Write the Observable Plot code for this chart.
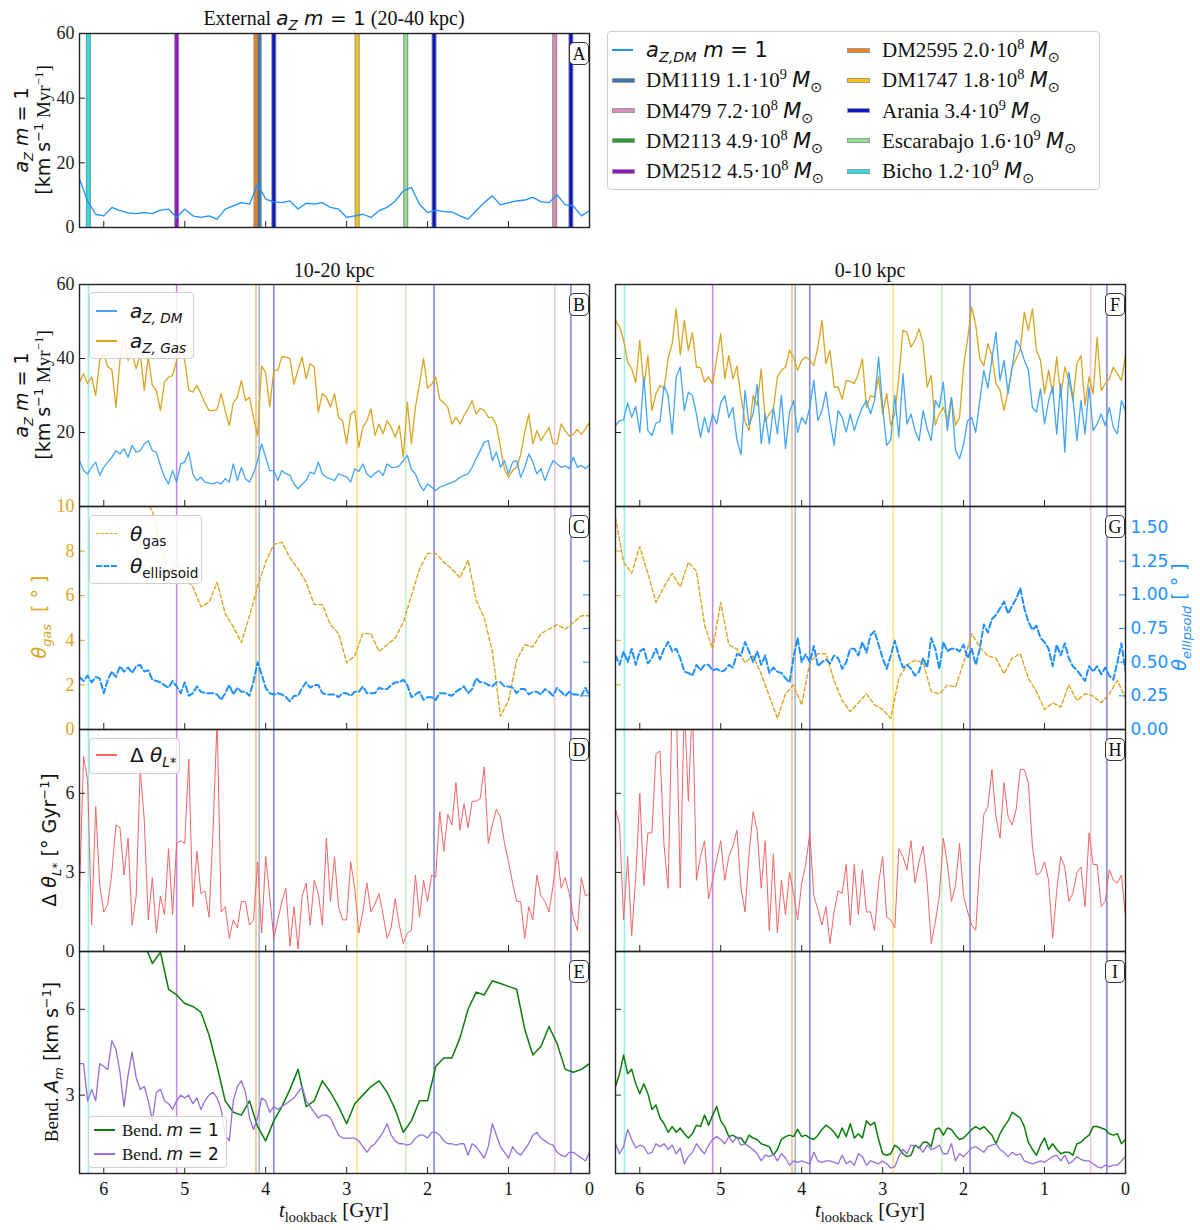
<!DOCTYPE html>
<html><head><meta charset="utf-8">
<script src="https://cdn.jsdelivr.net/npm/d3@7"></script>
<script src="https://cdn.jsdelivr.net/npm/@observablehq/plot@0.6"></script>
<style>
body{margin:0;background:#fff;}
#fig{position:relative;width:1200px;height:1230px;overflow:hidden;font-family:"Liberation Serif",serif;color:#111;}
.lab{position:absolute;white-space:nowrap;transform:translate(-50%,-50%);}
.rot{transform:translate(-50%,-50%) rotate(-90deg);text-align:center;line-height:1.15;}
.m{font-family:"DejaVu Sans",sans-serif;}
sub,sup{font-size:68%;line-height:0;}
.box{position:absolute;border:1px solid #cfcfcf;border-radius:4px;background:rgba(255,255,255,0.85);}
.tag{position:absolute;width:20px;height:23px;border:1.3px solid #333;border-radius:5px;background:#fff;font-size:18px;line-height:22px;text-align:center;box-sizing:border-box;}
.sw{position:absolute;}
.lt{position:absolute;white-space:nowrap;transform:translateY(-50%);}
</style></head>
<body><div id="fig"></div>
<script>
// time grids (Gyr lookback)
const tGyr05 = d3.range(127).map(i => +(6.3 - 0.05 * i).toFixed(2));
const tGyr10 = d3.range(64).map(i => +(6.3 - 0.1 * i).toFixed(1));
const xTickVals = [6, 5, 4, 3, 2, 1, 0];

// satellite pericentre passages
const eventNames = ["Bicho", "DM2512", "DM2595", "DM1119", "Arania", "DM1747", "Escarabajo", "Arania", "DM479", "Arania"];
const eventTimes = [6.19, 5.10, 4.12, 4.08, 3.90, 2.87, 2.27, 1.92, 0.43, 0.23];
const satColors = {DM1119: "#3b76ad", DM479: "#d98cb8", DM2113: "#2ca02c", DM2512: "#9516c9", DM2595: "#f57f17",
  DM1747: "#ffc400", Arania: "#0a14c8", Escarabajo: "#8ee08e", Bicho: "#22e3e3"};

// legend
const legendSats = ["DM1119", "DM479", "DM2113", "DM2512", "DM2595", "DM1747", "Arania", "Escarabajo", "Bicho"];
const legendMant = ["1.1", "7.2", "4.9", "4.5", "2.0", "1.8", "3.4", "1.6", "1.2"];
const legendExp = [9, 8, 8, 8, 8, 8, 9, 9, 9];

// A: external a_Z (20-40 kpc), 0.1 Gyr grid
const azExt = [15,8.2,4.1,3.6,6.2,5.2,4.5,4.3,4.6,4.3,5.4,5.7,3.1,5.7,3.6,3.1,3.6,2.6,5.7,6.7,7.7,7.2,13.4,8.8,7.9,7.7,8.2,5.7,7.5,7.2,7.7,6.2,5.7,3.1,3.6,4.1,3.1,5.2,6.2,8.2,11.3,12.4,7.2,4.6,5.4,4.9,4.8,3.6,2.6,5.2,7.7,9.8,7.0,7.7,8.2,8.5,9.3,8.0,7.7,10.1,7.0,6.7,3.6,5.2];

// B: 10-20 kpc a_Z (0.05 Gyr grid)
const azGasB = [33.6,35.9,33.2,35.0,30.0,39.5,41.3,37.7,37.0,26.8,39.5,45.8,39.5,41.3,37.2,41.3,31.4,40.4,32.7,31.4,25.9,33.6,35.0,35.4,39.5,43.5,39.5,31.4,30.9,32.7,30.5,28.0,25.9,25.9,26.2,30.5,25.9,21.9,28.0,29.5,34.0,28.6,29.5,24.0,19.0,38.0,36.0,27.0,36.8,36.8,40.5,40.4,39.9,33.0,37.0,40.4,34.5,38.6,37.7,25.5,30.5,29.5,26.8,30.5,24.1,23.2,17.0,25.0,25.9,16.0,21.4,23.2,26.4,19.2,22.3,19.6,23.2,21.4,18.7,21.9,13.3,28.2,16.9,27.0,33.0,40.0,32.0,33.0,35.0,29.0,28.0,26.8,22.3,24.1,22.3,24.6,26.4,28.6,25.0,26.5,26.0,24.1,24.1,22.0,16.0,10.0,7.9,9.7,10.6,14.0,20.0,25.0,16.9,20.5,17.8,19.6,21.4,17.0,16.9,22.3,20.5,19.0,19.5,20.8,19.5,21.0,22.8];
const azDmB = [12.4,9.7,8.8,10.6,12.0,8.4,10.6,12.0,13.3,15.1,14.2,15.6,13.3,16.5,14.7,15.1,16.9,17.8,15.1,14.7,11.0,8.0,6.1,9.7,6.6,11.5,12.0,14.7,8.8,7.0,7.9,6.6,6.3,6.1,6.6,6.1,7.5,6.6,11.5,7.0,10.6,7.5,6.6,9.0,12.4,16.9,13.3,9.7,9.7,7.0,9.7,8.8,8.4,6.0,4.8,6.0,7.0,9.3,8.8,12.0,8.8,7.9,7.5,7.0,8.8,8.4,8.0,6.6,10.2,9.5,11.5,8.8,7.9,9.0,9.7,8.4,11.5,10.6,10.6,11.0,12.4,13.8,10.0,8.8,6.0,4.3,6.1,5.2,4.3,5.2,5.6,6.1,6.5,7.0,7.9,8.4,8.8,10.6,13.0,15.1,17.4,17.8,12.4,14.7,10.6,12.4,8.8,12.0,12.4,7.9,10.6,14.2,12.0,8.8,10.2,7.0,10.0,12.4,11.5,10.6,11.0,10.2,13.3,10.6,11.1,10.2,11.3];

// F: 0-10 kpc a_Z (0.05 Gyr grid)
const azGasF = [50.3,48.5,45.0,39.0,37.2,33.5,44.9,32.3,40.8,25.9,30.5,32.7,31.8,40.0,44.0,53.4,41.0,50.3,42.2,47.0,37.7,37.5,33.6,35.0,33.0,40.0,46.7,34.5,40.8,34.5,38.0,29.5,23.0,20.5,30.0,27.3,37.2,23.0,25.0,26.4,35.0,36.8,37.7,42.2,40.4,36.8,39.5,40.4,39.5,38.1,43.1,50.3,38.6,42.2,32.3,32.3,29.0,34.1,33.8,33.2,35.9,39.9,26.8,30.0,29.5,35.0,25.0,30.5,22.0,25.0,35.0,47.6,47.1,43.1,44.9,48.0,44.0,32.3,35.4,22.0,25.0,26.8,23.2,29.5,22.0,24.0,38.0,45.3,53.9,49.0,40.0,38.0,44.0,40.8,33.2,31.4,25.9,31.4,37.7,40.0,42.4,52.5,47.6,53.4,42.2,39.5,30.5,36.8,30.5,40.4,29.5,37.7,34.1,28.6,38.6,40.8,27.3,35.0,30.5,45.8,31.4,33.2,34.5,37.7,35.9,34.0,40.8];
const azDmF = [21.9,23.2,23.4,28.0,24.1,27.0,20.0,35.0,20.5,19.2,22.5,23.0,32.7,30.0,19.6,35.0,37.7,25.9,30.9,30.0,25.0,18.7,24.1,20.0,25.0,22.3,28.0,30.0,24.1,26.8,18.0,14.0,31.4,22.0,25.0,33.0,17.0,25.0,16.9,26.8,19.6,30.0,15.6,25.5,28.6,20.0,24.1,22.3,26.8,34.1,23.2,25.9,31.0,23.0,16.5,25.9,24.1,20.1,25.0,20.5,24.0,26.8,28.6,25.0,28.6,40.4,26.8,16.5,18.0,30.0,18.7,35.9,22.3,25.0,20.5,17.8,25.9,21.0,17.8,28.6,26.8,33.6,20.5,29.5,15.1,12.9,16.9,23.2,24.1,20.0,28.6,36.8,32.0,39.9,47.1,34.1,39.5,30.5,37.7,44.9,43.1,39.5,36.8,26.8,25.5,31.8,22.3,28.6,32.3,19.6,33.2,14.7,36.3,29.5,17.8,28.6,19.6,32.3,20.5,22.3,25.0,21.9,26.8,21.4,19.6,28.6,25.9];

// C / G: tilt angles; gas on 0.1 Gyr grid, ellipsoid on 0.05 Gyr grid
const thGasC = [13,12.5,12.2,11.8,11.5,11.2,10.8,10.6,10.3,9.8,8.3,6.9,7.5,6.8,6.4,5.5,5.7,6.6,5.2,4.6,3.9,5.1,6.4,7.5,8.3,8.4,7.7,7.2,6.6,5.6,5.6,4.7,4.3,3.0,3.3,4.3,4.3,3.5,3.8,4.1,4.8,6.0,7.2,7.9,7.9,7.5,7.2,6.8,7.6,5.8,5.0,3.5,0.6,1.3,3.1,3.8,3.7,4.3,4.5,4.7,4.5,4.8,5.1,5.1];
const thGasG = [9.5,7.5,7.0,8.2,7.0,5.7,6.4,7.0,6.4,7.5,7.1,4.7,3.6,5.7,3.8,3.6,3.0,3.3,2.5,1.5,0.5,1.6,2.0,1.1,3.0,3.4,3.4,2.2,1.3,0.8,1.2,1.6,1.1,0.9,0.5,2.3,2.9,3.1,3.0,1.7,1.6,2.0,1.9,3.0,4.3,3.7,3.3,3.2,2.5,3.2,3.4,2.3,1.7,0.9,1.2,1.0,2.0,1.3,1.6,1.5,1.2,1.6,2.2,1.4];
const thEllC = [0.39,0.36,0.40,0.35,0.39,0.38,0.27,0.37,0.43,0.39,0.47,0.43,0.46,0.42,0.47,0.48,0.43,0.44,0.37,0.36,0.35,0.33,0.31,0.36,0.32,0.27,0.35,0.25,0.27,0.32,0.28,0.27,0.27,0.27,0.26,0.22,0.27,0.33,0.26,0.31,0.28,0.28,0.25,0.36,0.50,0.41,0.31,0.27,0.26,0.27,0.26,0.24,0.21,0.25,0.25,0.31,0.35,0.31,0.33,0.33,0.27,0.26,0.26,0.26,0.24,0.27,0.27,0.25,0.28,0.28,0.32,0.27,0.27,0.27,0.31,0.30,0.30,0.33,0.35,0.35,0.37,0.33,0.24,0.26,0.28,0.22,0.24,0.24,0.22,0.27,0.27,0.26,0.25,0.28,0.30,0.32,0.27,0.30,0.38,0.35,0.35,0.33,0.32,0.35,0.35,0.32,0.32,0.31,0.27,0.30,0.30,0.26,0.28,0.28,0.26,0.30,0.28,0.25,0.31,0.28,0.25,0.28,0.26,0.26,0.25,0.31,0.25];
const thEllG = [0.55,0.48,0.58,0.50,0.60,0.48,0.58,0.60,0.49,0.53,0.60,0.52,0.60,0.65,0.58,0.60,0.53,0.43,0.42,0.40,0.48,0.44,0.48,0.48,0.44,0.45,0.43,0.44,0.48,0.46,0.56,0.55,0.65,0.58,0.50,0.58,0.48,0.55,0.42,0.46,0.43,0.42,0.38,0.35,0.54,0.68,0.50,0.56,0.50,0.62,0.47,0.50,0.52,0.49,0.55,0.53,0.45,0.50,0.60,0.60,0.55,0.65,0.57,0.70,0.73,0.63,0.53,0.45,0.55,0.66,0.55,0.46,0.48,0.45,0.40,0.43,0.53,0.46,0.68,0.60,0.45,0.65,0.58,0.60,0.60,0.58,0.63,0.53,0.60,0.48,0.60,0.78,0.72,0.82,0.85,0.90,0.95,0.86,0.92,0.97,1.05,0.90,0.80,0.74,0.77,0.68,0.65,0.60,0.47,0.63,0.55,0.64,0.53,0.47,0.44,0.40,0.36,0.47,0.43,0.47,0.41,0.46,0.40,0.37,0.50,0.64,0.43];

// D / H: delta theta L* (0.05 Gyr grid)
const dThD = [2.2,7.4,6.5,1.0,5.5,2.5,1.5,1.8,3.0,4.8,4.7,2.9,4.3,1.0,2.1,6.9,5.0,1.2,2.8,0.7,2.1,1.4,3.9,1.4,4.1,4.2,4.1,7.3,1.7,3.8,2.2,2.3,1.3,4.6,8.8,1.5,1.7,0.5,1.2,0.9,1.9,1.9,1.0,1.2,3.4,0.7,3.6,2.1,0.5,1.2,1.9,2.4,0.2,1.7,0.1,2.1,2.6,1.0,2.7,2.2,1.0,4.3,1.9,3.6,1.7,1.2,1.2,3.4,2.4,0.7,1.5,2.6,1.5,1.8,2.2,1.4,0.5,0.9,2.0,1.0,0.3,0.7,0.8,2.9,1.3,2.7,1.9,2.9,2.8,5.3,3.8,5.2,4.8,6.4,4.6,5.6,4.7,5.7,5.7,5.8,7.0,4.1,4.8,5.4,5.1,4.1,3.4,2.6,1.9,1.9,0.5,1.7,1.2,2.9,2.1,1.9,1.5,2.5,3.8,2.4,2.8,2.2,1.3,0.8,2.8,2.1,2.2];
const dThH = [5.4,4.8,1.2,3.6,0.6,2.8,6.0,2.5,4.5,4.5,7.5,7.6,4.0,2.4,9.5,9.5,2.4,9.5,5.7,9.5,2.7,3.6,4.2,2.0,2.7,3.5,4.2,2.7,3.6,4.0,4.6,2.4,1.5,3.7,5.3,4.6,2.4,4.2,0.8,3.7,0.7,2.7,1.4,3.0,2.2,1.2,2.6,3.3,4.5,2.1,1.6,1.0,1.7,0.3,1.5,2.3,2.2,3.3,1.0,3.3,1.4,3.1,1.5,1.5,0.8,2.6,3.6,1.3,1.2,0.9,3.9,3.6,3.1,4.2,2.6,3.4,4.0,2.6,0.3,1.1,2.1,4.3,3.3,1.9,2.5,4.1,2.1,1.5,1.0,0.8,3.3,5.2,5.5,6.9,5.1,4.3,6.4,5.1,4.8,5.4,6.9,6.9,6.4,4.0,2.9,3.0,3.4,2.7,0.5,2.3,3.6,3.2,1.9,2.2,3.0,3.2,1.7,4.5,3.3,3.3,1.7,1.9,3.1,2.7,2.6,2.9,1.3];

// E / I: bending amplitudes
const bendM1E = [10.0,9.8,9.6,9.4,9.2,9.0,8.8,8.6,8.3,7.6,8.0,6.7,6.5,6.2,6.1,5.9,5.1,4.0,2.8,2.4,2.3,2.8,1.9,1.4,2.1,2.6,3.2,3.9,2.6,2.8,3.5,3.1,2.6,2.0,2.7,3.0,3.3,3.5,3.1,2.5,1.7,2.1,2.8,2.8,4.0,4.3,4.3,5.0,6.0,6.6,6.5,7.0,6.9,6.8,6.7,5.3,4.4,4.7,5.4,4.8,3.9,3.8,3.9,4.1];
const bendM2E = [4.1,4.1,2.8,3.2,2.8,4.1,4.0,3.9,4.9,4.6,3.8,2.6,3.7,4.5,3.6,3.2,3.3,2.8,2.1,3.1,3.2,2.8,2.7,2.5,2.8,3.0,2.9,3.0,2.7,2.9,2.5,2.8,3.0,3.1,2.9,2.5,1.6,1.4,2.8,3.3,3.5,3.1,2.2,1.8,2.2,2.9,2.8,2.4,2.6,2.5,2.6,2.7,2.8,2.9,3.1,3.3,2.8,2.6,2.4,2.2,2.3,2.3,2.2,1.9,1.6,1.5,1.5,1.5,1.5,1.4,1.2,1.0,1.2,1.3,1.5,1.7,2.0,1.6,1.4,1.3,1.3,1.25,1.3,1.5,1.6,1.6,1.5,1.7,1.7,1.6,1.4,1.3,1.3,1.25,1.3,1.3,0.9,1.3,1.2,1.0,0.8,1.2,2.0,1.6,1.2,1.0,0.8,1.2,1.0,0.9,1.1,1.3,1.6,1.7,1.5,1.4,1.3,1.25,1.0,0.9,0.85,1.0,1.0,0.9,0.8,0.7,1.0];
const bendM1I = [3.3,3.75,4.4,3.75,3.9,3.4,3.05,3.4,3.05,2.5,2.65,2.2,2.0,1.7,1.9,1.7,1.85,1.65,1.5,1.65,1.95,1.9,2.3,1.95,2.3,2.6,2.1,1.9,1.55,1.6,1.5,1.5,1.3,1.6,1.5,1.45,1.3,1.25,1.2,0.9,1.1,1.45,1.55,1.6,1.55,1.8,1.55,1.6,1.5,1.45,1.6,1.8,1.95,1.85,1.7,1.5,1.85,1.55,2.0,1.5,1.65,1.5,2.1,1.95,2.05,1.45,0.95,0.9,0.95,1.25,1.15,0.95,0.85,0.9,1.25,1.15,1.35,1.35,1.2,1.8,1.85,1.6,1.85,1.8,1.6,1.45,1.5,1.65,1.8,1.9,1.8,1.9,1.75,1.6,1.3,1.65,1.9,2.1,2.4,2.3,2.2,1.9,1.35,1.1,0.9,1.25,1.5,1.1,1.3,1.1,0.95,1.0,1.0,0.9,1.3,1.35,1.5,1.6,1.9,1.9,1.85,1.8,1.65,1.6,1.65,1.3,1.45];
const bendM2I = [1.3,0.95,1.2,1.8,1.45,1.15,1.25,1.2,0.95,1.0,1.3,1.2,1.3,1.1,1.25,0.95,1.15,0.6,0.85,1.0,1.3,1.1,0.95,1.25,1.45,1.55,1.45,1.3,1.55,1.35,1.55,1.25,1.3,1.2,1.1,0.95,0.7,0.9,0.85,0.95,0.7,0.95,0.8,0.55,0.7,0.65,0.7,0.65,0.6,1.0,0.7,0.65,0.7,0.7,0.65,0.6,0.9,0.6,0.7,0.55,0.95,0.85,0.55,0.7,0.65,0.6,0.7,0.6,0.45,0.5,0.85,1.1,0.95,1.25,1.2,1.2,1.0,1.25,1.1,1.15,1.25,0.95,0.95,1.3,0.7,0.95,0.85,1.0,1.15,1.2,1.1,1.0,1.2,1.25,1.3,1.1,1.0,0.85,1.0,0.9,0.95,0.7,0.65,0.6,0.65,0.7,0.65,0.75,0.85,0.9,0.7,0.9,0.6,0.7,0.85,0.75,0.7,0.7,0.6,0.5,0.45,0.55,0.5,0.55,0.55,0.7,0.85];

const W = 510;
const K = 10 / 1.656; // theta_ellipsoid twin axis -> theta_gas units
const twinTicks = [0.25, 0.5, 0.75, 1.0, 1.25, 1.5];
const BLUE = "#1e90ff", BLUE2 = "#42a5f5", GOLD = "#daa520", RED = "#f46464", GREEN = "#0a7d0a", PURPLE = "#9370db";
const fig = document.getElementById("fig");

const series = (t, v) => t.map((x, i) => ({t: x, v: v[i]})).filter(d => d.v != null);
const events = eventTimes.map((t, i) => ({t, color: satColors[eventNames[i]]}));

function panel({left, top, h, y, lines = [], bold = false, yTicks = [], yLabels = null, yColor = "#222", xLabels = false, extra = []}) {
  const marks = [];
  if (bold) {
    marks.push(Plot.ruleX(events, {x: "t", stroke: "#8c8c8c", strokeWidth: 5}));
    marks.push(Plot.ruleX(events, {x: "t", stroke: d => d.color, strokeWidth: 3}));
  } else {
    marks.push(Plot.ruleX(events, {x: "t", stroke: d => d.color, strokeWidth: 1.6, strokeOpacity: 0.5}));
  }
  for (const l of lines) {
    marks.push(Plot.line(l.data, {x: "t", y: "v", stroke: l.color, strokeWidth: l.width || 1.2,
      strokeDasharray: l.dash, clip: true}));
  }
  marks.push(Plot.ruleX(xTickVals, {x: d => d, insetTop: h - 6, stroke: "#222"}));
  marks.push(Plot.ruleY(yTicks, {y: d => d, insetRight: W - 6, stroke: yColor}));
  if (yLabels) marks.push(Plot.axisY({ticks: yLabels, anchor: "left", tickSize: 0, tickPadding: 5,
    label: null, color: yColor, tickFormat: d => d}));
  if (xLabels) marks.push(Plot.axisX({ticks: xTickVals, anchor: "bottom", tickSize: 0, tickPadding: 9,
    label: null, tickFormat: d => d}));
  marks.push(...extra);
  marks.push(Plot.frame({stroke: "#222", strokeWidth: 1.4}));
  const svg = Plot.plot({
    width: W, height: h, margin: 0,
    x: {domain: [6.3, 0], axis: null},
    y: {domain: y, axis: null},
    style: {fontFamily: '"Liberation Serif", serif', fontSize: "18px", background: "transparent", overflow: "visible", color: "#111"},
    marks
  });
  svg.style.position = "absolute";
  svg.style.left = left + "px";
  svg.style.top = top + "px";
  svg.style.maxWidth = "none";
  fig.append(svg);
}

const xl = 79, xr = 615;
// A
panel({left: xl, top: 33, h: 194, y: [0, 60], bold: true, yTicks: [0, 20, 40, 60], yLabels: [0, 20, 40, 60],
  lines: [{data: series(tGyr10, azExt), color: BLUE, width: 1.3}]});
// B, F
panel({left: xl, top: 284, h: 222, y: [0, 60], yTicks: [20, 40], yLabels: [20, 40, 60],
  lines: [{data: series(tGyr05, azGasB), color: GOLD, width: 1.3}, {data: series(tGyr05, azDmB), color: BLUE2, width: 1.3}]});
panel({left: xr, top: 284, h: 222, y: [0, 60], yTicks: [20, 40],
  lines: [{data: series(tGyr05, azGasF), color: GOLD, width: 1.3}, {data: series(tGyr05, azDmF), color: BLUE2, width: 1.3}]});
// C, G
const twinInner = Plot.ruleY(twinTicks.map(v => v * K), {y: d => d, insetLeft: W - 6, stroke: BLUE});
panel({left: xl, top: 506, h: 223, y: [0, 10], yTicks: [2, 4, 6, 8], yLabels: [0, 2, 4, 6, 8, 10], yColor: GOLD,
  lines: [{data: series(tGyr10, thGasC), color: GOLD, width: 1.4, dash: "4,2.5"},
          {data: series(tGyr05, thEllC.map(v => v * K)), color: BLUE, width: 2, dash: "6,3"}],
  extra: [twinInner]});
panel({left: xr, top: 506, h: 223, y: [0, 10], yTicks: [2, 4, 6, 8], yColor: GOLD,
  lines: [{data: series(tGyr10, thGasG), color: GOLD, width: 1.4, dash: "4,2.5"},
          {data: series(tGyr05, thEllG.map(v => v * K)), color: BLUE, width: 2, dash: "6,3"}],
  extra: [twinInner, Plot.axisY({ticks: [0, ...twinTicks].map(v => v * K), anchor: "right", tickSize: 0, tickPadding: 5,
    label: null, color: BLUE, fontFamily: "DejaVu Sans", fontSize: 17, tickFormat: d => (d / K).toFixed(2)})]});
// D, H
panel({left: xl, top: 729, h: 222, y: [0, 8.42], yTicks: [3, 6], yLabels: [0, 3, 6],
  lines: [{data: series(tGyr05, dThD), color: RED, width: 1}]});
panel({left: xr, top: 729, h: 222, y: [0, 8.42], yTicks: [3, 6],
  lines: [{data: series(tGyr05, dThH), color: RED, width: 1}]});
// E, I
panel({left: xl, top: 951, h: 222, y: [0.26, 8.02], yTicks: [3, 6], yLabels: [3, 6], xLabels: true,
  lines: [{data: series(tGyr10, bendM1E), color: GREEN, width: 1.5}, {data: series(tGyr05, bendM2E), color: PURPLE, width: 1.3}]});
panel({left: xr, top: 951, h: 222, y: [0.26, 8.02], yTicks: [3, 6], xLabels: true,
  lines: [{data: series(tGyr05, bendM1I), color: GREEN, width: 1.5}, {data: series(tGyr05, bendM2I), color: PURPLE, width: 1.3}]});

// ---- text overlays
function lab(html, x, y, cls = "", style = "") {
  const d = document.createElement("div");
  d.className = "lab " + cls;
  d.style.cssText = `left:${x}px;top:${y}px;${style}`;
  d.innerHTML = html;
  fig.append(d);
  return d;
}
const aZ = '<span class="m"><i>a<sub>Z</sub></i> <i>m</i> = 1</span>';
const unitsA = '<span class="m">[km s<sup>−1</sup></span> Myr<sup>−1</sup>]';
lab(`External ${aZ} (20-40 kpc)`, 334, 18, "", "font-size:20px");
lab("10-20 kpc", 334, 270, "", "font-size:20px");
lab("0-10 kpc", 870, 270, "", "font-size:20px");
lab(`${aZ}<br>${unitsA}`, 33, 130, "rot", "font-size:19px");
lab(`${aZ}<br>${unitsA}`, 33, 395, "rot", "font-size:19px");
lab('<span class="m"><i>θ<sub>gas</sub></i> &nbsp;[ ° ]</span>', 40, 617, "rot", `font-size:19px;color:${GOLD}`);
lab('<span class="m">Δ <i>θ<sub>L*</sub></i> [° Gyr<sup>−1</sup>]</span>', 50, 840, "rot", "font-size:19px");
lab('Bend. <span class="m"><i>A<sub>m</sub></i> [km s<sup>−1</sup>]</span>', 52, 1062, "rot", "font-size:19px");
lab('<span class="m"><i>θ<sub>ellipsoid</sub></i> [ ° ]</span>', 1180, 617, "rot", `font-size:19px;color:${BLUE}`);
lab('<i>t</i><sub>lookback</sub> [Gyr]', 334, 1210, "", "font-size:21px");
lab('<i>t</i><sub>lookback</sub> [Gyr]', 870, 1210, "", "font-size:21px");

// panel tags
const tags = [["A", 589, 42], ["B", 589, 293], ["C", 589, 515], ["D", 589, 738], ["E", 589, 960],
  ["F", 1125, 293], ["G", 1125, 515], ["H", 1125, 738], ["I", 1125, 960]];
for (const [s, r, t] of tags) {
  const d = document.createElement("div");
  d.className = "tag";
  d.style.left = (r - 20) + "px";
  d.style.top = t + "px";
  d.textContent = s;
  fig.append(d);
}

// legend boxes
function legendBox(x, y, w, h, items, fs = 19) {
  const b = document.createElement("div");
  b.className = "box";
  b.style.cssText += `left:${x}px;top:${y}px;width:${w}px;height:${h}px;`;
  for (const it of items) {
    const sw = document.createElement("div");
    sw.className = "sw";
    const th = it.thick || 1.5;
    if (it.dash) {
      sw.style.cssText = `left:${it.hx}px;top:${it.y - th / 2}px;width:${it.hw || 21}px;height:0;border-top:${th}px dashed ${it.color};`;
    } else if (it.edge) {
      sw.style.cssText = `left:${it.hx}px;top:${it.y - 2.5}px;width:${it.hw || 21}px;height:3px;background:${it.color};border:1px solid #9a9a9a;`;
    } else {
      sw.style.cssText = `left:${it.hx}px;top:${it.y - th / 2}px;width:${it.hw || 21}px;height:${th}px;background:${it.color};`;
    }
    b.append(sw);
    const t = document.createElement("div");
    t.className = "lt";
    t.style.cssText = `left:${it.tx}px;top:${it.y}px;font-size:${fs}px;`;
    t.innerHTML = it.html;
    b.append(t);
  }
  fig.append(b);
}

// main legend
const mainItems = [{html: '<span class="m"><i>a</i><sub><i>Z,DM</i></sub> <i>m</i> = 1</span>', color: BLUE, thick: 1.5}];
legendSats.forEach((s, i) => mainItems.push({
  html: `${s} ${legendMant[i]}·10<sup>${legendExp[i]}</sup> <span class="m"><i>M</i><sub>⊙</sub></span>`,
  color: satColors[s], edge: true}));
mainItems.forEach((it, i) => {
  const col = Math.floor(i / 5), row = i % 5;
  it.hx = col ? 239 : 4;
  it.tx = col ? 274 : 38;
  it.y = 18 + row * 30.3;
});
legendBox(607, 31, 491, 157, mainItems, 21);

legendBox(89, 292, 103, 65, [
  {html: '<span class="m"><i>a</i><sub><i>Z, DM</i></sub></span>', color: BLUE2, hx: 6, tx: 40, y: 18},
  {html: '<span class="m"><i>a</i><sub><i>Z, Gas</i></sub></span>', color: GOLD, hx: 6, tx: 40, y: 48}], 20);
legendBox(89, 515, 111, 67, [
  {html: '<span class="m"><i>θ</i><sub>gas</sub></span>', color: GOLD, dash: true, thick: 1.3, hx: 6, tx: 40, y: 18},
  {html: '<span class="m"><i>θ</i><sub>ellipsoid</sub></span>', color: BLUE, dash: true, thick: 2, hx: 6, tx: 40, y: 50}], 20);
legendBox(89, 738, 89, 34, [
  {html: '<span class="m">Δ <i>θ<sub>L*</sub></i></span>', color: RED, thick: 1.2, hx: 6, tx: 40, y: 16}], 20);
legendBox(88, 1116, 137, 50, [
  {html: 'Bend. <span class="m"><i>m</i> = 1</span>', color: GREEN, thick: 1.5, hx: 5, tx: 33, y: 13},
  {html: 'Bend. <span class="m"><i>m</i> = 2</span>', color: PURPLE, thick: 1.5, hx: 5, tx: 33, y: 37}], 17);
</script></body></html>
